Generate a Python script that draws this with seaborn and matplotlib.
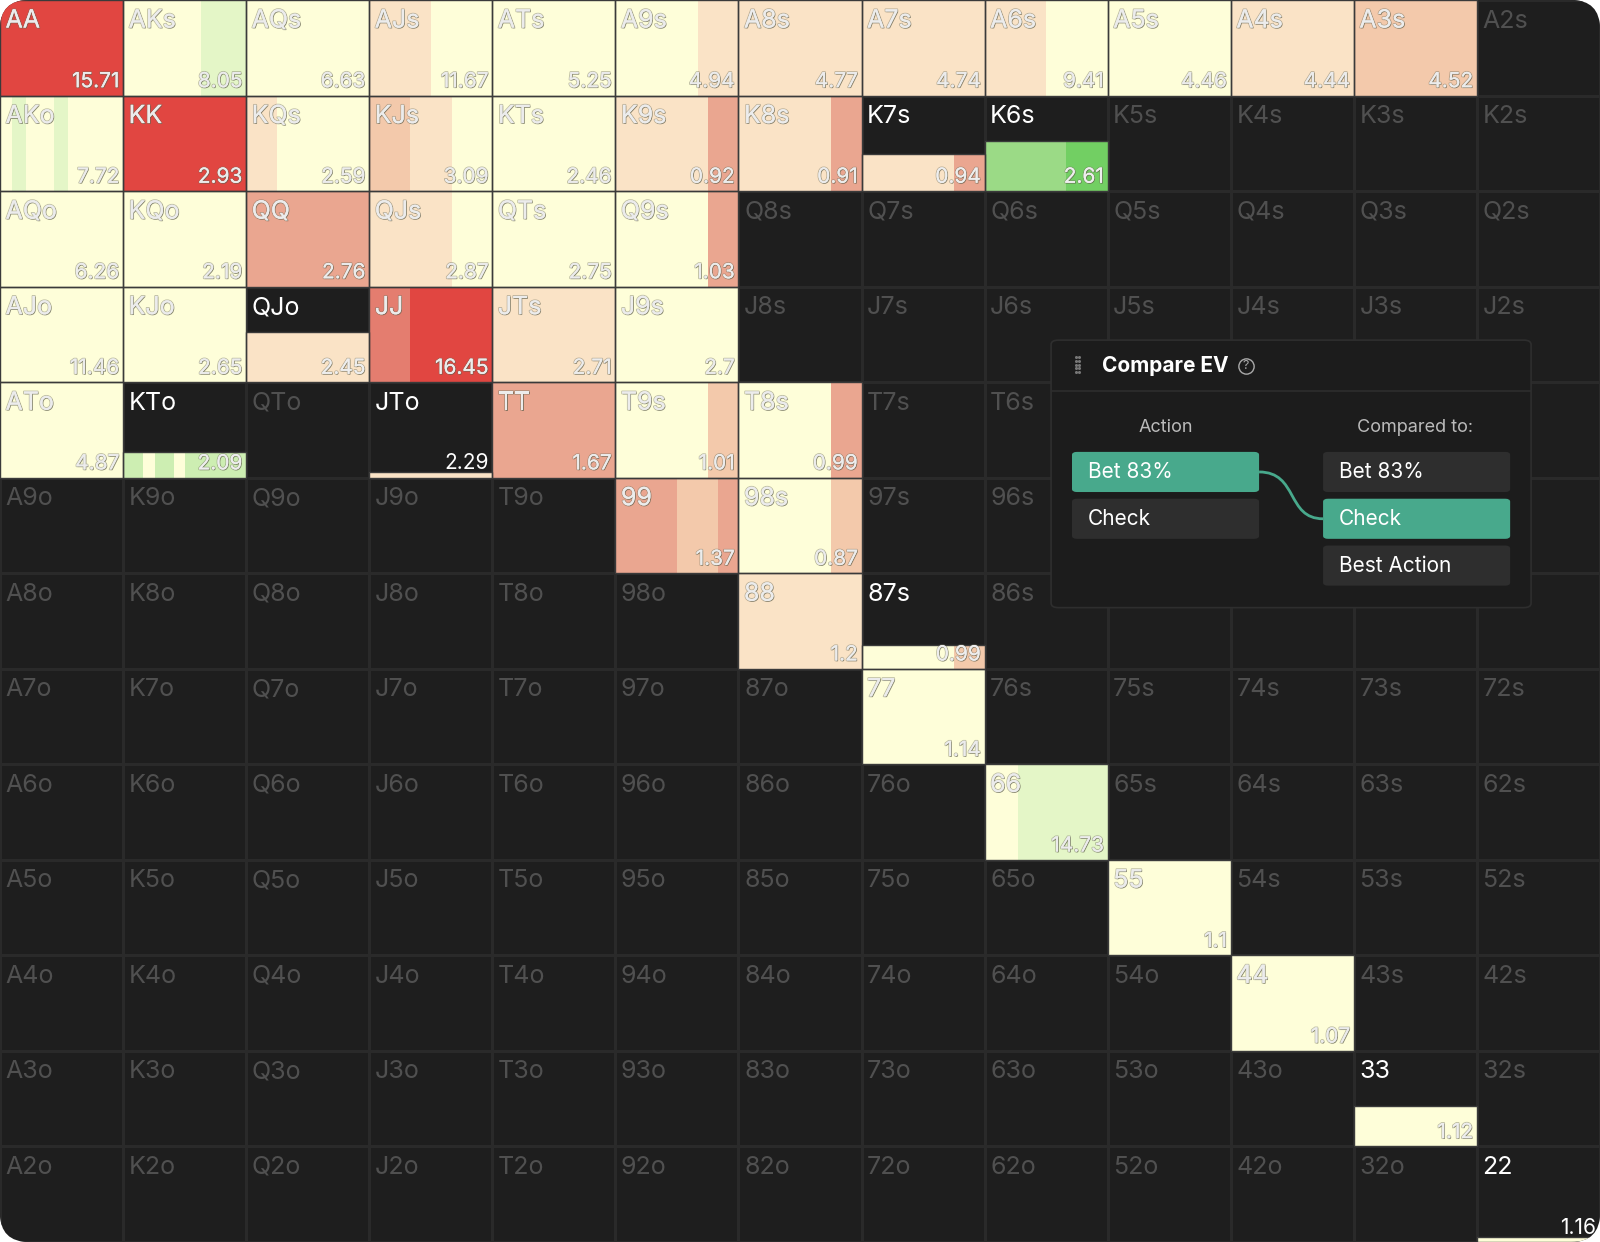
import numpy as np
import pandas as pd
import seaborn as sns
import matplotlib
matplotlib.use("Agg")
import matplotlib.pyplot as plt
from matplotlib.patches import Rectangle, FancyBboxPatch
from matplotlib.path import Path
from matplotlib.patches import PathPatch
import matplotlib.patheffects as pe

sns.set_theme(style="white")
plt.rcParams['font.family'] = ['Inter', 'DejaVu Sans']

ranks = ["A", "K", "Q", "J", "T", "9", "8", "7", "6", "5", "4", "3", "2"]

# colours
C = "#fefed9"; P = "#fae3c6"; S1 = "#f3c9ab"; S2 = "#eaa690"
R1 = "#e47d6f"; R = "#e14641"; G1 = "#e4f6c7"; GK = "#cdeeb2"
G2 = "#9bda86"; G3 = "#72cf63"

# hand -> (EV value, filled height fraction, [(colour, width fraction), ...])
hands = {
    "AA": (15.71, 1.0, [(R, 1)]),
    "AKs": (8.05, 1.0, [(C, .63), (G1, .37)]),
    "AQs": (6.63, 1.0, [(C, 1)]),
    "AJs": (11.67, 1.0, [(P, .5), (C, .5)]),
    "ATs": (5.25, 1.0, [(C, 1)]),
    "A9s": (4.94, 1.0, [(C, .67), (P, .33)]),
    "A8s": (4.77, 1.0, [(P, 1)]),
    "A7s": (4.74, 1.0, [(P, 1)]),
    "A6s": (9.41, 1.0, [(P, .5), (C, .5)]),
    "A5s": (4.46, 1.0, [(C, 1)]),
    "A4s": (4.44, 1.0, [(P, 1)]),
    "A3s": (4.52, 1.0, [(S1, 1)]),
    "AKo": (7.72, 1.0, [(C, .1), (G1, .11), (C, .23), (G1, .11), (C, .45)]),
    "KK": (2.93, 1.0, [(R, 1)]),
    "KQs": (2.59, 1.0, [(P, .25), (C, .75)]),
    "KJs": (3.09, 1.0, [(S1, .33), (P, .34), (C, .33)]),
    "KTs": (2.46, 1.0, [(C, 1)]),
    "K9s": (0.92, 1.0, [(P, .75), (S2, .25)]),
    "K8s": (0.91, 1.0, [(P, .75), (S2, .25)]),
    "K7s": (0.94, 0.39, [(P, .75), (S2, .25)]),
    "K6s": (2.61, 0.52, [(G2, .66), (G3, .34)]),
    "AQo": (6.26, 1.0, [(C, 1)]),
    "KQo": (2.19, 1.0, [(C, 1)]),
    "QQ": (2.76, 1.0, [(S2, 1)]),
    "QJs": (2.87, 1.0, [(P, .67), (C, .33)]),
    "QTs": (2.75, 1.0, [(C, 1)]),
    "Q9s": (1.03, 1.0, [(C, .75), (S2, .25)]),
    "AJo": (11.46, 1.0, [(C, 1)]),
    "KJo": (2.65, 1.0, [(C, 1)]),
    "QJo": (2.45, 0.52, [(P, 1)]),
    "JJ": (16.45, 1.0, [(R1, .33), (R, .67)]),
    "JTs": (2.71, 1.0, [(P, 1)]),
    "J9s": (2.7, 1.0, [(C, 1)]),
    "ATo": (4.87, 1.0, [(C, 1)]),
    "KTo": (2.09, 0.27, [(GK, .16), (C, .1), (GK, .15), (C, .09), (GK, .5)]),
    "JTo": (2.29, 0.06, [(P, 1)]),
    "TT": (1.67, 1.0, [(S2, 1)]),
    "T9s": (1.01, 1.0, [(C, .75), (S1, .25)]),
    "T8s": (0.99, 1.0, [(C, .75), (S2, .25)]),
    "99": (1.37, 1.0, [(S2, .5), (S1, .33), (S2, .17)]),
    "98s": (0.87, 1.0, [(C, .75), (S1, .25)]),
    "88": (1.2, 1.0, [(P, 1)]),
    "87s": (0.99, 0.25, [(C, .75), (S1, .25)]),
    "77": (1.14, 1.0, [(C, 1)]),
    "66": (14.73, 1.0, [(C, .27), (G1, .73)]),
    "55": (1.1, 1.0, [(C, 1)]),
    "44": (1.07, 1.0, [(C, 1)]),
    "33": (1.12, 0.42, [(C, 1)]),
    "22": (1.16, 0.05, [(C, 1)]),
}

def hand_name(i, j):
    if i == j:
        return ranks[i] * 2
    if j > i:
        return ranks[i] + ranks[j] + "s"
    return ranks[j] + ranks[i] + "o"

W, H = 1600, 1242
fig = plt.figure(figsize=(W / 100, H / 100), dpi=100, facecolor="white")
ax = fig.add_axes([0, 0, 1, 1])
ax.patch.set_alpha(0)

grid = pd.DataFrame(np.zeros((13, 13)), index=ranks, columns=ranks)
sns.heatmap(grid, ax=ax, cmap=["#1e1e1e"], cbar=False, linewidths=0.8,
            linecolor="#2a2a2a", xticklabels=False, yticklabels=False)
ax.set_xlim(0, 13); ax.set_ylim(13, 0)
ax.set_axis_off()

shadow = [pe.SimplePatchShadow(offset=(0.6, -0.6), shadow_rgbFace="#555544", alpha=0.55),
          pe.withStroke(linewidth=1.3, foreground=(0.45, 0.45, 0.38, 0.45)), pe.Normal()]
LY, VY = 0.22, 0.85
for i in range(13):
    for j in range(13):
        name = hand_name(i, j)
        if name in hands:
            val, hf, segs = hands[name]
            x = j
            for col, wf in segs:
                ax.add_patch(Rectangle((x, i + 1 - hf), wf, hf, facecolor=col,
                                       edgecolor="none", zorder=2))
                x += wf
            ax.add_patch(Rectangle((j, i + 1 - hf), 1, hf, facecolor="none",
                                   edgecolor="#3a3a3a", lw=1.0, zorder=3))
            if hf < 1:
                ax.text(j + 0.045, i + LY, name, fontsize=18, color="white",
                        ha="left", va="center", zorder=5)
                vcol = "white" if hf < 0.2 else "#eeeeee"
                ax.text(j + 0.97, i + VY, f"{val:g}", fontsize=15, color=vcol,
                        ha="right", va="center", zorder=5,
                        path_effects=None if hf < 0.2 else shadow)
            else:
                ax.text(j + 0.045, i + LY, name, fontsize=18, color="#ececec",
                        ha="left", va="center", zorder=5, path_effects=shadow)
                ax.text(j + 0.97, i + VY, f"{val:g}", fontsize=15, color="#ececec",
                        ha="right", va="center", zorder=5, path_effects=shadow)
        else:
            ax.text(j + 0.045, i + LY, name, fontsize=18, color="#505050",
                    ha="left", va="center", zorder=5)

# Compare EV panel
panel = FancyBboxPatch((8.54, 3.56), 3.9, 2.8, boxstyle="round,pad=0,rounding_size=0.06",
                       facecolor="#1c1c1c", edgecolor="#2e2e2e", lw=1.2, zorder=10,
                       mutation_aspect=0.78)
ax.add_patch(panel)
ax.plot([8.54, 12.44], [4.09, 4.09], color="#2e2e2e", lw=1.2, zorder=11)
for k in range(5):
    for dx in (0, 0.025):
        ax.plot(8.74 + dx, 3.74 + k * 0.038, marker="o", ms=1.2, color="#777777", zorder=11)
ax.text(8.95, 3.83, "Compare EV", fontsize=15, fontweight="bold", color="white",
        ha="left", va="center", zorder=11)
ax.text(10.12, 3.83, "?", fontsize=9, color="#aaaaaa", ha="center", va="center", zorder=11)
ax.plot(10.12, 3.83, marker="o", ms=11, mfc="none", mec="#aaaaaa", mew=1, zorder=11)
ax.text(9.47, 4.47, "Action", fontsize=13, color="#bbbbbb", ha="center", va="center", zorder=11)
ax.text(11.5, 4.47, "Compared to:", fontsize=13, color="#bbbbbb", ha="center", va="center", zorder=11)

teal = "#48a98c"; btn = "#2e2e2e"
buttons = [
    (8.71, 4.73, "Bet 83%", teal),
    (8.71, 5.22, "Check", btn),
    (10.75, 4.73, "Bet 83%", btn),
    (10.75, 5.22, "Check", teal),
    (10.75, 5.71, "Best Action", btn),
]
for bx, by, label, col in buttons:
    ax.add_patch(FancyBboxPatch((bx, by), 1.52, 0.42, boxstyle="round,pad=0,rounding_size=0.04",
                                facecolor=col, edgecolor="none", zorder=11, mutation_aspect=0.78))
    ax.text(bx + 0.13, by + 0.21, label, fontsize=15, color="white", ha="left",
            va="center", zorder=12)
verts = [(10.23, 4.94), (10.55, 4.94), (10.45, 5.43), (10.75, 5.43)]
ax.add_patch(PathPatch(Path(verts, [Path.MOVETO, Path.CURVE4, Path.CURVE4, Path.CURVE4]),
                       facecolor="none", edgecolor=teal, lw=2, zorder=12))

# rounded outer corners: clip everything to a rounded rectangle
clip = FancyBboxPatch((0, 0), 1, 1, boxstyle="round,pad=0,rounding_size=0.018",
                      transform=fig.transFigure, facecolor="none", edgecolor="none",
                      mutation_aspect=W / H)
for art in ax.get_children():
    try:
        art.set_clip_path(clip)
    except Exception:
        pass

fig.savefig("out.png", dpi=100, facecolor="white")
